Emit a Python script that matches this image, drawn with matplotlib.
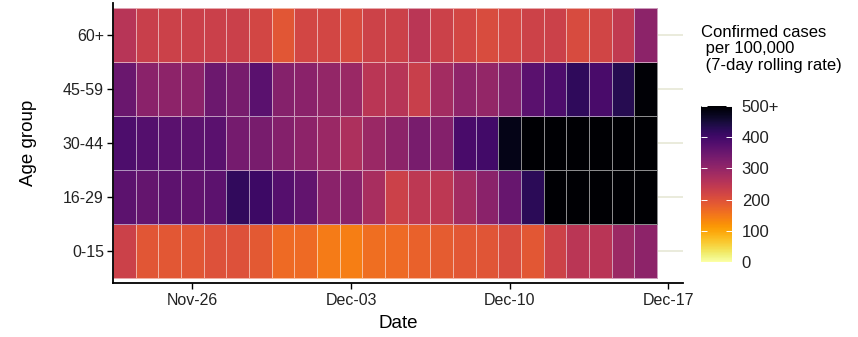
import matplotlib
matplotlib.use("Agg")
import matplotlib.dates as mdates
import matplotlib.pyplot as plt
import numpy as np
import pandas as pd

plt.rcParams['font.family'] = ['Liberation Sans', 'DejaVu Sans']

# daily 7-day rolling case rate per 100,000, by age group (values over 500 shown as 500+)
dates = pd.date_range('2020-11-23', '2020-12-16', freq='D')
age_groups = ['0-15', '16-29', '30-44', '45-59', '60+']
rate_0_15 = [228, 192, 190, 193, 200, 200, 188, 165, 165, 145, 142, 162,
             165, 177, 184, 190, 194, 208, 190, 225, 250, 252, 290, 307]
rate_16_29 = [368, 358, 367, 362, 368, 418, 405, 375, 360, 312, 312, 275,
              228, 248, 248, 280, 312, 355, 425, 530, 580, 620, 650, 660]
rate_30_44 = [385, 378, 370, 368, 370, 337, 333, 320, 307, 292, 268, 292,
              310, 333, 320, 392, 400, 480, 540, 590, 630, 660, 690, 700]
rate_45_59 = [350, 312, 308, 310, 348, 335, 370, 318, 312, 300, 292, 250,
              255, 232, 280, 305, 300, 322, 370, 385, 420, 392, 430, 495]
rate_60 = [255, 232, 228, 230, 230, 230, 218, 192, 218, 218, 210, 225,
           227, 250, 228, 218, 208, 216, 225, 228, 210, 220, 242, 310]
tick_dates = ['2020-11-26', '2020-12-03', '2020-12-10', '2020-12-17']
cbar_ticks = [0, 100, 200, 300, 400, 500]
cbar_labels = ['0', '100', '200', '300', '400', '500+']

rates = np.array([rate_0_15, rate_16_29, rate_30_44, rate_45_59, rate_60])

fig = plt.figure(figsize=(8.58, 3.37), dpi=100)
ax = fig.add_axes([113 / 858, 54 / 337, 570 / 858, 280 / 337])

day_nums = mdates.date2num(dates)
x_edges = np.append(day_nums - 0.5, day_nums[-1] + 0.5)
y_edges = np.arange(len(age_groups) + 1) - 0.5

# light horizontal guides, only visible to the right of the tiles
for i in range(len(age_groups)):
    ax.axhline(i, color='#e6e8d6', lw=1.2, zorder=0)

mesh = ax.pcolormesh(x_edges, y_edges, rates, cmap='inferno_r', vmin=0, vmax=500,
                     edgecolors=(1, 1, 1, 0.55), linewidth=0.6, zorder=1)

ax.set_xlim(day_nums[0] - 0.5, day_nums[-1] + 1.64)
ax.set_ylim(-0.6, len(age_groups) - 0.4)

ax.set_yticks(range(len(age_groups)))
ax.set_yticklabels(age_groups)
ax.set_xticks(mdates.date2num(pd.to_datetime(tick_dates)))
ax.xaxis.set_major_formatter(mdates.DateFormatter('%b-%d'))

for side in ['top', 'right']:
    ax.spines[side].set_visible(False)
for side in ['left', 'bottom']:
    ax.spines[side].set_linewidth(1.3)
ax.tick_params(axis='both', labelsize=11.5, labelcolor='#222222', length=4.5, width=1)
ax.tick_params(axis='y', pad=2)
ax.tick_params(axis='x', pad=3)

ax.set_xlabel('Date', fontsize=13.5)
ax.set_ylabel('Age group', fontsize=13.5)
ax.xaxis.set_label_coords(0.5, -0.115)
ax.yaxis.set_label_coords(-0.133, 0.5)

cax = fig.add_axes([701 / 858, 75 / 337, 31 / 858, 156 / 337])
cbar = fig.colorbar(mesh, cax=cax, ticks=cbar_ticks)
cbar.outline.set_visible(False)
cbar.ax.set_yticklabels(cbar_labels)
cax.yaxis.set_ticks_position('both')
cax.tick_params(direction='in', color='white', length=4.5, width=0.7,
                labelsize=12, labelcolor='#222222', pad=7)
cax.tick_params(labelleft=False, labelright=True)

fig.text(701 / 858, 1 - 25 / 337, 'Confirmed cases\n per 100,000\n (7-day rolling rate)',
         ha='left', va='top', fontsize=12, linespacing=1.12)

fig.savefig('out.png', dpi=100)
